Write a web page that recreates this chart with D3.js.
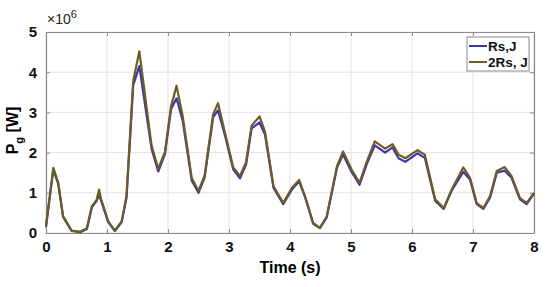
<!DOCTYPE html>
<html>
<head>
<meta charset="utf-8">
<script src="https://cdn.jsdelivr.net/npm/d3@7"></script>
<style>
  body { margin: 0; background: #fff; }
  text { font-family: Arial, "Liberation Sans", sans-serif; }
</style>
</head>
<body>
<div id="chart"></div>
<script>
// time samples (s) and power values (x10^6 W)
var timeVals = [0.00, 0.12, 0.20, 0.28, 0.42, 0.56, 0.67, 0.75, 0.83, 0.87, 0.90, 1.02, 1.13, 1.24, 1.32,
  1.43, 1.53, 1.73, 1.84, 1.95, 2.05, 2.14, 2.24, 2.39, 2.50, 2.60, 2.74, 2.82, 2.93, 3.07, 3.18,
  3.28, 3.37, 3.50, 3.59, 3.73, 3.89, 4.03, 4.15, 4.25, 4.38, 4.49, 4.60, 4.77, 4.87, 5.01, 5.14,
  5.26, 5.39, 5.56, 5.68, 5.78, 5.89, 6.09, 6.21, 6.38, 6.52, 6.65, 6.84, 6.95, 7.06, 7.17, 7.28,
  7.39, 7.52, 7.63, 7.77, 7.88, 8.00];
var rsJ = [0.15, 1.58, 1.22, 0.40, 0.05, 0.02, 0.10, 0.63, 0.80, 0.95, 0.82, 0.27, 0.05, 0.27, 0.88,
  3.68, 4.15, 2.10, 1.53, 1.96, 3.08, 3.35, 2.80, 1.30, 1.00, 1.38, 2.88, 3.05, 2.45, 1.58, 1.36,
  1.70, 2.60, 2.75, 2.45, 1.12, 0.72, 1.08, 1.28, 0.88, 0.23, 0.12, 0.38, 1.62, 1.95, 1.52, 1.20,
  1.72, 2.18, 2.00, 2.13, 1.86, 1.77, 1.98, 1.87, 0.80, 0.60, 1.05, 1.52, 1.33, 0.72, 0.60, 0.88,
  1.50, 1.55, 1.38, 0.84, 0.72, 0.98];
var rs2J = [0.18, 1.62, 1.26, 0.42, 0.06, 0.03, 0.12, 0.66, 0.82, 1.08, 0.86, 0.29, 0.06, 0.29, 0.92,
  3.78, 4.52, 2.18, 1.60, 2.02, 3.15, 3.66, 2.92, 1.36, 1.05, 1.43, 2.95, 3.23, 2.52, 1.63, 1.42,
  1.76, 2.67, 2.90, 2.52, 1.16, 0.75, 1.12, 1.32, 0.90, 0.25, 0.13, 0.40, 1.66, 2.03, 1.58, 1.25,
  1.78, 2.28, 2.10, 2.21, 1.95, 1.86, 2.06, 1.95, 0.84, 0.62, 1.08, 1.63, 1.38, 0.75, 0.62, 0.92,
  1.54, 1.64, 1.42, 0.87, 0.75, 1.00];
var xTicks = [0, 1, 2, 3, 4, 5, 6, 7, 8];
var yTicks = [0, 1, 2, 3, 4, 5];
var seriesNames = ["Rs,J", "2Rs, J"];
var seriesColors = ["#3a36b0", "#6e5c22"];

var margin = {top: 32, right: 16, bottom: 54, left: 46},
    width = 550 - margin.left - margin.right,
    height = 287 - margin.top - margin.bottom;

var svg = d3.select("#chart")
  .append("svg")
    .attr("width", 550)
    .attr("height", 287)
  .append("g")
    .attr("transform", "translate(" + margin.left + "," + margin.top + ")");

var x = d3.scaleLinear().domain([0, 8]).range([0, width]);
var y = d3.scaleLinear().domain([0, 5]).range([height, 0]);

// grid
svg.append("g").selectAll("line.gx")
  .data(xTicks).enter().append("line")
    .attr("x1", function(d) { return x(d); })
    .attr("x2", function(d) { return x(d); })
    .attr("y1", 0).attr("y2", height)
    .attr("stroke", "#e3e3e3").attr("stroke-width", 1);
svg.append("g").selectAll("line.gy")
  .data(yTicks).enter().append("line")
    .attr("x1", 0).attr("x2", width)
    .attr("y1", function(d) { return y(d); })
    .attr("y2", function(d) { return y(d); })
    .attr("stroke", "#e3e3e3").attr("stroke-width", 1);

// axes
var xAxis = svg.append("g")
  .attr("transform", "translate(0," + height + ")")
  .call(d3.axisBottom(x).tickValues(xTicks).tickFormat(d3.format("d"))
    .tickSizeInner(-4).tickSizeOuter(0).tickPadding(8));
var yAxis = svg.append("g")
  .call(d3.axisLeft(y).tickValues(yTicks).tickFormat(d3.format("d"))
    .tickSizeInner(-4).tickSizeOuter(0).tickPadding(9));
svg.append("g")
  .call(d3.axisTop(x).tickValues(xTicks).tickSizeInner(-4).tickSizeOuter(0).tickFormat(""));
svg.append("g")
  .attr("transform", "translate(" + width + ",0)")
  .call(d3.axisRight(y).tickValues(yTicks).tickSizeInner(-4).tickSizeOuter(0).tickFormat(""));

svg.selectAll(".domain").attr("stroke", "#8a8a8a").attr("stroke-width", 1.2);
svg.selectAll(".tick line").attr("stroke", "#8a8a8a");
svg.selectAll(".tick text")
  .attr("font-size", 15).attr("font-weight", "bold").attr("fill", "#111");

// lines
var line = d3.line()
  .x(function(d) { return x(d[0]); })
  .y(function(d) { return y(d[1]); });

[rsJ, rs2J].forEach(function(vals, i) {
  svg.append("path")
    .datum(timeVals.map(function(t, k) { return [t, vals[k]]; }))
    .attr("fill", "none")
    .attr("stroke", seriesColors[i])
    .attr("stroke-width", 2.2)
    .attr("stroke-linejoin", "round")
    .attr("d", line);
});

// exponent label
var expo = svg.append("text")
  .attr("x", 1).attr("y", -8)
  .attr("font-size", 14).attr("fill", "#222");
expo.append("tspan").text("\u00d710");
expo.append("tspan").attr("dy", -6).attr("font-size", 11).text("6");

// axis labels
svg.append("text")
  .attr("x", width / 2).attr("y", height + 40)
  .attr("text-anchor", "middle")
  .attr("font-size", 16).attr("font-weight", "bold")
  .text("Time (s)");

var yl = svg.append("text")
  .attr("transform", "translate(" + (-28) + "," + (height / 2 - 2) + ") rotate(-90)")
  .attr("text-anchor", "middle")
  .attr("font-size", 16).attr("font-weight", "bold");
yl.append("tspan").text("P");
yl.append("tspan").attr("dy", 5).attr("font-size", 11).text("g");
yl.append("tspan").attr("dy", -5).text(" [W]");

// legend
var lg = svg.append("g").attr("transform", "translate(" + (width - 67) + ",5)");
lg.append("rect")
  .attr("width", 62).attr("height", 34)
  .attr("fill", "#fff").attr("stroke", "#8a8a8a");
seriesNames.forEach(function(name, i) {
  lg.append("line")
    .attr("x1", 2).attr("x2", 20)
    .attr("y1", 9 + i * 16).attr("y2", 9 + i * 16)
    .attr("stroke", seriesColors[i]).attr("stroke-width", 2);
  lg.append("text")
    .attr("x", 21).attr("y", 14 + i * 16)
    .attr("font-size", 13.5).attr("font-weight", "bold").attr("fill", "#111")
    .text(name);
});
</script>
</body>
</html>
